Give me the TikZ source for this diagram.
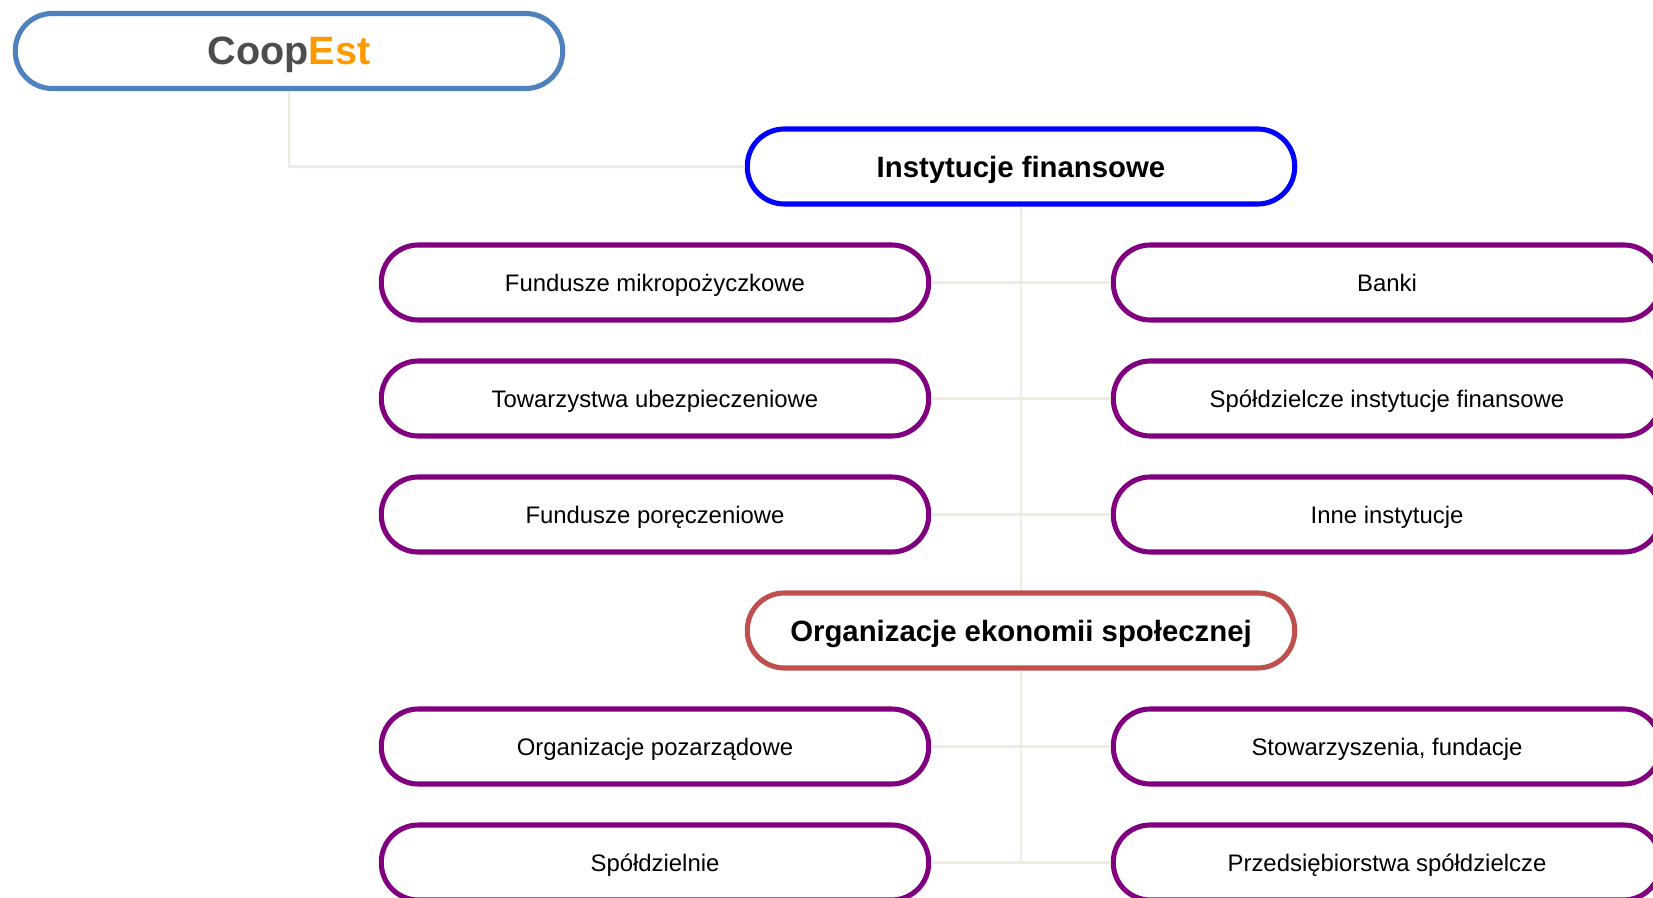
\documentclass[tikz,border=0pt]{standalone}
\usepackage{fontspec}
\setmainfont{Liberation Sans}
\usepackage{tikz}
\usepackage{xcolor}
\usetikzlibrary{calc}
\definecolor{logoblue}{HTML}{4F81BD}
\definecolor{finblue}{HTML}{0000FF}
\definecolor{orgred}{HTML}{C0504D}
\definecolor{leafpurple}{HTML}{800080}
\definecolor{linebeige}{HTML}{EEECE1}
\definecolor{coopgray}{HTML}{4D4D4D}
\definecolor{estorange}{HTML}{FF9900}
\tikzset{
	pill/.style={draw, fill=white, rounded corners=0.74cm, minimum width=10.95cm, minimum height=1.5cm, line width=2.9pt, align=center, text depth=0pt},
	head/.style={pill, font=\fontsize{16.7}{19}\selectfont\bfseries},
	leaf/.style={pill, draw=leafpurple, font=\fontsize{13.6}{16}\selectfont},
	link/.style={draw=linebeige, line width=1.6pt}
}

\begin{document}
\begin{tikzpicture}[x=0.02cm, y=-0.02cm]
		\useasboundingbox (0,0) rectangle (1653,898);
		\node[pill, draw=logoblue, font=\fontsize{22.5}{26}\selectfont\bfseries] (coop) at (289,51) {\textcolor{coopgray}{Coop}\textcolor{estorange}{Est}};
		\node[head, draw=finblue] (inst) at (1021,166.5) {Instytucje finansowe};
		\node[leaf] (mikro) at (655,282.5) {Fundusze mikropożyczkowe};
		\node[leaf] (banki) at (1387,282.5) {Banki};
		\node[leaf] (ubezp) at (655,398.5) {Towarzystwa ubezpieczeniowe};
		\node[leaf] (sif) at (1387,398.5) {Spółdzielcze instytucje finansowe};
		\node[leaf] (porecz) at (655,514.5) {Fundusze poręczeniowe};
		\node[leaf] (inne) at (1387,514.5) {Inne instytucje};
		\node[head, draw=orgred] (org) at (1021,630.5) {Organizacje ekonomii społecznej};
		\node[leaf] (ngo) at (655,746.5) {Organizacje pozarządowe};
		\node[leaf] (stow) at (1387,746.5) {Stowarzyszenia, fundacje};
		\node[leaf] (spoldz) at (655,862.5) {Spółdzielnie};
		\node[leaf] (przeds) at (1387,862.5) {Przedsiębiorstwa spółdzielcze};
		\draw[link] (coop.south) |- (inst.west);
		\draw[link] (inst.south) -- (org.north);
		\draw[link] (org.south) -- (org.south |- spoldz.east);
		\draw[link] (mikro.east) -- (banki.west);
		\draw[link] (ubezp.east) -- (sif.west);
		\draw[link] (porecz.east) -- (inne.west);
		\draw[link] (ngo.east) -- (stow.west);
		\draw[link] (spoldz.east) -- (przeds.west);
	\end{tikzpicture}
\end{document}
